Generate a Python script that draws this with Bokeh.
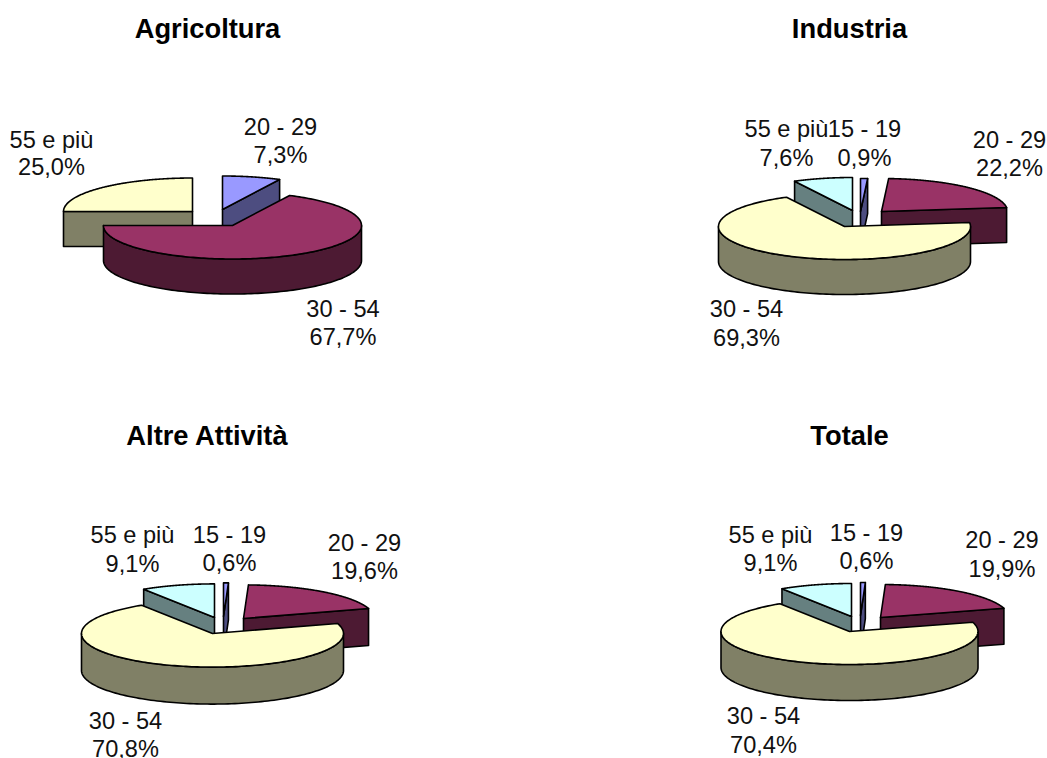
import numpy as np
from bokeh.plotting import figure
from bokeh.models import Range1d, ColumnDataSource
from bokeh.core.properties import value
from bokeh.embed import file_html
from bokeh.resources import INLINE

# ---- data -------------------------------------------------------------
titles = ["Agricoltura", "Industria", "Altre Attività", "Totale"]
labels_agricoltura = ["20 - 29", "30 - 54", "55 e più"]
values_agricoltura = [7.3, 67.7, 25.0]
labels_industria = ["15 - 19", "20 - 29", "30 - 54", "55 e più"]
values_industria = [0.9, 22.2, 69.3, 7.6]
labels_altre = ["15 - 19", "20 - 29", "30 - 54", "55 e più"]
values_altre = [0.6, 19.6, 70.8, 9.1]
labels_totale = ["15 - 19", "20 - 29", "30 - 54", "55 e più"]
values_totale = [0.6, 19.9, 70.4, 9.1]

# ---- styling / layout (screen pixels) -----------------------------------
top_colors = ["#9999FF", "#993366", "#FFFFCC", "#CCFFFF"]
side_colors = ["#4D4D80", "#4D1A33", "#808066", "#668080"]
FONT = "Liberation Sans"
LABEL_SHIFT = 9
TITLE_SHIFT = 7.5

panels = [
    dict(labels=labels_agricoltura, values=values_agricoltura, title=(207, 35),
         rx=129, ry=33.5, depth=35,
         tips=[(222, 209), (232, 225), (192, 211)],
         text=[(280, 135, 163), (342.5, 317, 345), (51, 148, 175)]),
    dict(labels=labels_industria, values=values_industria, title=(849, 35),
         rx=126, ry=33, depth=35,
         tips=[(860, 211), (881, 211), (844, 226), (852, 210)],
         text=[(864, 137, 166), (1009, 148, 176), (746, 317, 346), (786, 137, 166)]),
    dict(labels=labels_altre, values=values_altre, title=(207, 442),
         rx=131, ry=33.6, depth=37,
         tips=[(223, 616), (243, 618), (212, 633), (214, 617)],
         text=[(229, 543, 571), (364, 551, 579), (125, 729, 757), (132, 543, 572)]),
    dict(labels=labels_totale, values=values_totale, title=(849, 442),
         rx=128.5, ry=33, depth=36,
         tips=[(860, 615), (880, 617), (849, 631), (851, 616)],
         text=[(866, 541, 569), (1001.5, 548, 577), (763, 724, 753), (770, 543, 571)]),
]

p = figure(width=1047, height=758, output_backend="svg", toolbar_location=None,
           x_range=Range1d(0, 1047), y_range=Range1d(758, 0),
           x_axis_location=None, y_axis_location=None,
           min_border=0, outline_line_color=None, background_fill_color="white")
p.grid.visible = False


def rim(cx, cy, rx, ry, deg):
    t = np.radians(deg)
    return cx + rx * np.sin(t), cy - ry * np.cos(t)


for panel in panels:
    rx, ry, d = panel["rx"], panel["ry"], panel["depth"]
    vals = np.array(panel["values"], dtype=float)
    edges = np.concatenate([[0.0], np.cumsum(vals) / vals.sum() * 360.0])
    idx = list(range(len(vals)))
    # the big slice sits in front: paint it last
    order = sorted(idx, key=lambda i: vals[i])
    xs, ys, fills = [], [], []
    for i in order:
        a0, a1 = edges[i], edges[i + 1]
        cx, cy = panel["tips"][i]
        # radial faces turned to the viewer
        if 0 < a1 < 180:
            ex, ey = rim(cx, cy, rx, ry, a1)
            xs.append([cx, ex, ex, cx]); ys.append([cy, ey, ey + d, cy + d]); fills.append(side_colors[i])
        if 180 < a0 < 360:
            ex, ey = rim(cx, cy, rx, ry, a0)
            xs.append([cx, ex, ex, cx]); ys.append([cy, ey, ey + d, cy + d]); fills.append(side_colors[i])
        # outer wall
        lo, hi = max(a0, 90.0), min(a1, 270.0)
        if hi > lo:
            th = np.linspace(lo, hi, 120)
            wx, wy = rim(cx, cy, rx, ry, th)
            xs.append(np.concatenate([wx, wx[::-1]]).tolist())
            ys.append(np.concatenate([wy, wy[::-1] + d]).tolist())
            fills.append(side_colors[i])
        # top face
        th = np.linspace(a0, a1, 200)
        tx, ty = rim(cx, cy, rx, ry, th)
        xs.append([cx] + tx.tolist())
        ys.append([cy] + ty.tolist())
        fills.append(top_colors[i])
    p.patches(xs="xs", ys="ys", fill_color="fills", line_color="black", line_width=1.6,
              line_join="round",
              source=ColumnDataSource(dict(xs=xs, ys=ys, fills=fills)))

    tx_, ty_, txt = [], [], []
    for lab, v, (x, y1, y2) in zip(panel["labels"], panel["values"], panel["text"]):
        tx_ += [x, x]
        ty_ += [y1 - LABEL_SHIFT, y2 - LABEL_SHIFT]
        txt += [lab, f"{v:.1f}%".replace(".", ",")]
    p.text(x=tx_, y=ty_, text=txt, text_font=value(FONT), text_font_size="23.6px",
           text_align="center", text_baseline="alphabetic", text_color="#111111")

title_x = [q["title"][0] for q in panels]
title_y = [q["title"][1] - TITLE_SHIFT for q in panels]
p.text(x=title_x, y=title_y, text=titles, text_font=value(FONT), text_font_size="27.3px",
       text_font_style="bold", text_align="center", text_baseline="alphabetic", text_color="black")

open("out.html", "w").write(file_html(p, INLINE))
